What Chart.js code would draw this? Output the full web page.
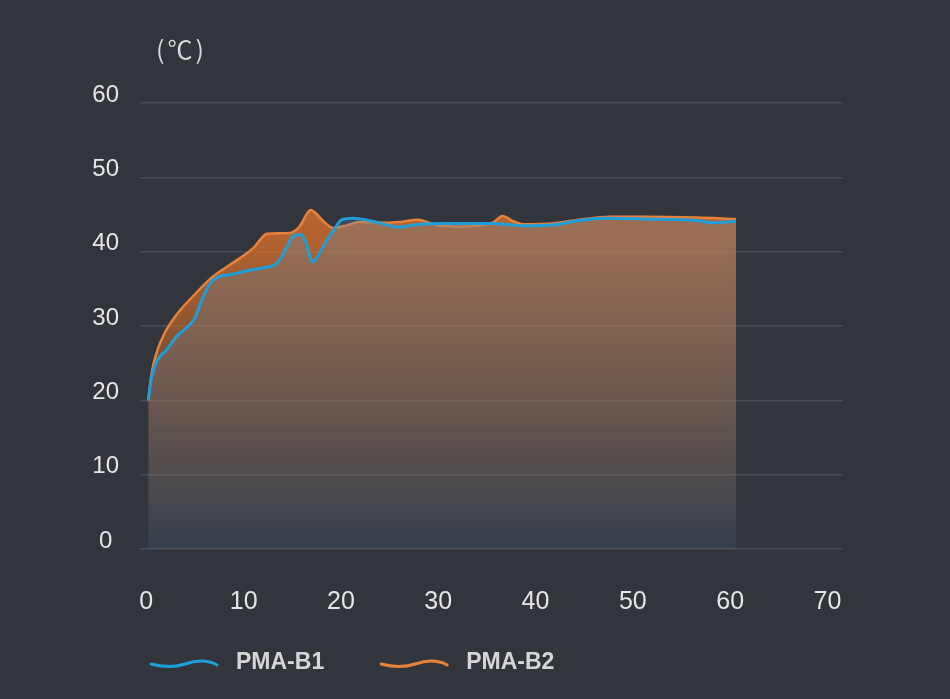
<!DOCTYPE html>
<html>
<head>
<meta charset="utf-8">
<title>PMA-B1 / PMA-B2</title>
<script src="https://cdn.jsdelivr.net/npm/chart.js@4/dist/chart.umd.min.js"></script>
<style>
  html, body { margin: 0; padding: 0; background: #32353c; }
  #grafico { display: block; }
</style>
</head>
<body>
<canvas id="grafico" width="950" height="699"></canvas>
<script>
// Dados (tempo em min, temperatura em °C)
var b1Tempo = [0.2, 0.55, 1.2, 2.1, 3.1, 4.5, 5.0, 5.7, 6.5, 7.2, 8.6, 11, 12.7, 13.4, 14.4, 15.1, 15.9, 16.4, 17.1, 17.6, 18.5, 19.3, 20.1, 21.2, 22.9, 24.7, 25.9, 27.4, 30.8, 35.6, 38.7, 41.8, 44.5, 47.3, 51.4, 56.5, 58.2, 60.6];
var b1Temp  = [20, 23.2, 25.5, 26.8, 28.6, 30.2, 31.1, 33.5, 35.6, 36.5, 36.9, 37.6, 38.0, 38.4, 40.5, 42.1, 42.3, 41.2, 38.6, 39.4, 41.4, 43.0, 44.3, 44.5, 44.2, 43.6, 43.3, 43.6, 43.8, 43.8, 43.5, 43.6, 44.2, 44.5, 44.4, 44.2, 43.9, 44.1];

var b2Tempo = [0.2, 0.55, 1.05, 1.9, 3.1, 4.8, 6.7, 8.9, 11, 11.7, 12.4, 14.7, 15.7, 16.9, 18.2, 19.2, 20.5, 21.9, 24.7, 26, 27.9, 29.1, 30.1, 32.5, 35.6, 36.6, 37.7, 38.7, 41.8, 44.5, 47.6, 51.4, 56.5, 60.6];
var b2Temp  = [20, 23.7, 26.4, 29.1, 31.5, 34, 36.5, 38.5, 40.5, 41.6, 42.4, 42.5, 43.3, 45.6, 44.1, 43.2, 43.5, 44.0, 43.9, 44.0, 44.3, 43.9, 43.5, 43.4, 43.9, 44.8, 44.1, 43.7, 43.8, 44.3, 44.7, 44.7, 44.6, 44.4];

var rotulos = ['PMA-B1', 'PMA-B2'];
var ticksX = [0, 10, 20, 30, 40, 50, 60, 70];
var unidade = '(\u2103)';

var azul = '#1f9fd9';
var laranja = '#e8823a';

function pontos(xs, ys) {
  return xs.map(function (x, i) { return { x: x, y: ys[i] }; });
}

// Degradês de preenchimento
function fundoLaranja(context) {
  var area = context.chart.chartArea;
  if (!area) return null;
  var g = context.chart.ctx.createLinearGradient(0, area.top, 0, area.bottom);
  g.addColorStop(0, 'rgba(226,116,42,0.80)');
  g.addColorStop(0.3, 'rgba(226,116,42,0.74)');
  g.addColorStop(1, 'rgba(226,116,42,0.0)');
  return g;
}

function fundoAzul(context) {
  var area = context.chart.chartArea;
  if (!area) return null;
  var g = context.chart.ctx.createLinearGradient(0, area.top, 0, area.bottom);
  g.addColorStop(0, 'rgba(80,140,190,0.32)');
  g.addColorStop(1, 'rgba(80,140,190,0.12)');
  return g;
}

// Texto da unidade e legenda com linha ondulada
var pluginExtras = {
  id: 'extras',
  afterDraw: function (chart) {
    var ctx = chart.ctx;
    ctx.save();
    ctx.fillStyle = '#d9d9d9';
    ctx.font = '25px "Noto Sans CJK SC", "Liberation Sans", sans-serif';
    ctx.letterSpacing = '3px';
    ctx.textBaseline = 'middle';
    ctx.fillText(unidade, 156, 49);
    ctx.letterSpacing = '0px';

    var x = 150;
    var y = 663;
    ctx.font = 'bold 23px "Liberation Sans", Arial, sans-serif';
    chart.data.datasets.forEach(function (ds) {
      ctx.strokeStyle = ds.borderColor;
      ctx.lineWidth = 3;
      ctx.lineCap = 'round';
      ctx.beginPath();
      ctx.moveTo(x + 1, y + 1);
      ctx.bezierCurveTo(x + 16, y + 5, x + 26, y + 4, x + 35, y + 1);
      ctx.bezierCurveTo(x + 47, y - 3, x + 58, y - 3, x + 67, y + 2);
      ctx.stroke();
      ctx.fillStyle = '#d6d6d6';
      ctx.fillText(ds.label, x + 86, y);
      x += 86 + ctx.measureText(ds.label).width + 56;
    });
    ctx.restore();
  }
};

var ctx = document.getElementById('grafico').getContext('2d');

var grafico = new Chart(ctx, {
  type: 'line',
  data: {
    datasets: [{
      label: rotulos[0],
      data: pontos(b1Tempo, b1Temp),
      borderColor: azul,
      borderWidth: 3,
      backgroundColor: fundoAzul,
      fill: 'origin',
      pointRadius: 0,
      cubicInterpolationMode: 'monotone'
    }, {
      label: rotulos[1],
      data: pontos(b2Tempo, b2Temp),
      borderColor: laranja,
      borderWidth: 2.5,
      backgroundColor: fundoLaranja,
      fill: 'origin',
      pointRadius: 0,
      cubicInterpolationMode: 'monotone'
    }]
  },
  options: {
    responsive: false,
    animation: false,
    layout: {
      padding: { left: 86, right: 107, top: 103, bottom: 84 }
    },
    plugins: {
      tooltip: { enabled: false },
      legend: { display: false }
    },
    scales: {
      x: {
        type: 'linear',
        min: -0.65,
        max: 71.6,
        afterBuildTicks: function (axis) {
          axis.ticks = ticksX.map(function (v) { return { value: v }; });
        },
        afterFit: function (axis) { axis.height = 66; },
        grid: { display: false },
        border: { display: false },
        ticks: {
          color: '#e6e6e6',
          padding: 30,
          maxRotation: 0,
          autoSkip: false,
          font: { family: '"Liberation Sans", sans-serif', size: 25 }
        }
      },
      y: {
        min: 0,
        max: 60,
        afterFit: function (axis) { axis.width = 54; },
        grid: { color: '#4a4d55', lineWidth: 1.5, drawTicks: false },
        border: { display: false },
        ticks: {
          stepSize: 10,
          color: '#e6e6e6',
          padding: 21,
          crossAlign: 'center',
          labelOffset: -8,
          font: { family: '"Liberation Sans", sans-serif', size: 24 }
        }
      }
    }
  },
  plugins: [pluginExtras]
});
</script>
</body>
</html>
